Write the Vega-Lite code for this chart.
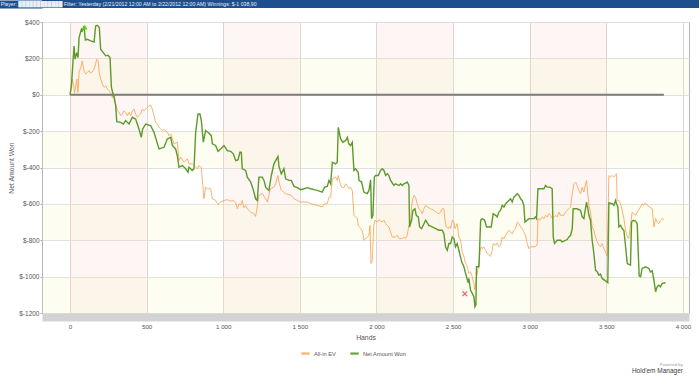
{
  "$schema": "https://vega.github.io/schema/vega-lite/v6.json",
  "padding": 0,
  "background": "white",
  "spacing": 10,
  "config": {
    "font": "Liberation Sans",
    "view": {"stroke": null},
    "axis": {"labelFont": "Liberation Sans", "titleFont": "Liberation Sans", "titleFontWeight": "normal"},
    "axisY": {"labelOverlap": false},
    "legend": {"labelFont": "Liberation Sans"},
    "title": {"font": "Liberation Sans"}
  },
  "datasets": {
    "vbands": [{"h0": 0, "h1": 500}, {"h0": 1000, "h1": 1500}, {"h0": 2000, "h1": 2500}, {"h0": 3000, "h1": 3500}],
    "hbands": [{"v0": 0, "v1": 200}, {"v0": -400, "v1": -200}, {"v0": -800, "v1": -600}, {"v0": -1200, "v1": -1000}],
    "zero": [{"h0": 0, "h1": 3876, "v": 0}],
    "markers": [{"kind": "max", "hand": 96, "value": 372}, {"kind": "min", "hand": 2577, "value": -1094}],
    "ev": [
      {"hand":0,"value":0},{"hand":15,"value":86},{"hand":22,"value":58},{"hand":30,"value":9},{"hand":44,"value":86},{"hand":52,"value":13},{"hand":59,"value":122},{"hand":70,"value":150},{"hand":80,"value":186},{"hand":91,"value":132},{"hand":102,"value":113},{"hand":113,"value":122},{"hand":124,"value":132},{"hand":135,"value":119},{"hand":152,"value":132},{"hand":161,"value":150},{"hand":174,"value":196},{"hand":183,"value":186},{"hand":191,"value":122},{"hand":200,"value":86},{"hand":211,"value":58},{"hand":222,"value":40},{"hand":233,"value":49},{"hand":244,"value":31},{"hand":254,"value":22},{"hand":265,"value":13},{"hand":276,"value":-15},{"hand":287,"value":4},{"hand":298,"value":-51},{"hand":309,"value":-88},{"hand":320,"value":-97},{"hand":331,"value":-115},{"hand":341,"value":-106},{"hand":352,"value":-88},{"hand":363,"value":-97},{"hand":374,"value":-115},{"hand":385,"value":-97},{"hand":396,"value":-115},{"hand":407,"value":-88},{"hand":418,"value":-79},{"hand":428,"value":-106},{"hand":439,"value":-124},{"hand":450,"value":-115},{"hand":461,"value":-106},{"hand":472,"value":-79},{"hand":483,"value":-88},{"hand":505,"value":-69},{"hand":515,"value":-60},{"hand":526,"value":-57},{"hand":537,"value":-79},{"hand":548,"value":-115},{"hand":559,"value":-152},{"hand":570,"value":-161},{"hand":581,"value":-179},{"hand":592,"value":-188},{"hand":602,"value":-197},{"hand":613,"value":-192},{"hand":635,"value":-206},{"hand":646,"value":-225},{"hand":657,"value":-215},{"hand":668,"value":-243},{"hand":679,"value":-270},{"hand":700,"value":-261},{"hand":711,"value":-362},{"hand":722,"value":-343},{"hand":744,"value":-371},{"hand":766,"value":-352},{"hand":776,"value":-380},{"hand":798,"value":-380},{"hand":820,"value":-398},{"hand":831,"value":-407},{"hand":842,"value":-389},{"hand":857,"value":-402},{"hand":874,"value":-572},{"hand":885,"value":-508},{"hand":896,"value":-517},{"hand":918,"value":-517},{"hand":929,"value":-572},{"hand":950,"value":-581},{"hand":966,"value":-603},{"hand":983,"value":-590},{"hand":1005,"value":-581},{"hand":1027,"value":-577},{"hand":1048,"value":-585},{"hand":1066,"value":-581},{"hand":1081,"value":-595},{"hand":1092,"value":-627},{"hand":1103,"value":-599},{"hand":1114,"value":-608},{"hand":1124,"value":-581},{"hand":1135,"value":-621},{"hand":1146,"value":-608},{"hand":1157,"value":-627},{"hand":1179,"value":-645},{"hand":1201,"value":-654},{"hand":1211,"value":-669},{"hand":1222,"value":-617},{"hand":1233,"value":-553},{"hand":1255,"value":-544},{"hand":1277,"value":-572},{"hand":1288,"value":-590},{"hand":1298,"value":-553},{"hand":1309,"value":-517},{"hand":1331,"value":-508},{"hand":1342,"value":-490},{"hand":1357,"value":-444},{"hand":1364,"value":-480},{"hand":1379,"value":-526},{"hand":1407,"value":-544},{"hand":1444,"value":-553},{"hand":1462,"value":-572},{"hand":1483,"value":-581},{"hand":1505,"value":-590},{"hand":1549,"value":-590},{"hand":1570,"value":-599},{"hand":1614,"value":-608},{"hand":1646,"value":-617},{"hand":1662,"value":-599},{"hand":1679,"value":-599},{"hand":1690,"value":-563},{"hand":1701,"value":-563},{"hand":1712,"value":-462},{"hand":1733,"value":-453},{"hand":1744,"value":-471},{"hand":1751,"value":-444},{"hand":1760,"value":-480},{"hand":1773,"value":-508},{"hand":1788,"value":-511},{"hand":1799,"value":-490},{"hand":1810,"value":-499},{"hand":1820,"value":-517},{"hand":1831,"value":-508},{"hand":1842,"value":-526},{"hand":1853,"value":-663},{"hand":1864,"value":-672},{"hand":1875,"value":-681},{"hand":1881,"value":-718},{"hand":1897,"value":-736},{"hand":1907,"value":-745},{"hand":1918,"value":-800},{"hand":1940,"value":-782},{"hand":1951,"value":-773},{"hand":1958,"value":-718},{"hand":1964,"value":-928},{"hand":1973,"value":-910},{"hand":1982,"value":-718},{"hand":1990,"value":-690},{"hand":2005,"value":-700},{"hand":2016,"value":-687},{"hand":2038,"value":-700},{"hand":2049,"value":-690},{"hand":2060,"value":-709},{"hand":2081,"value":-727},{"hand":2092,"value":-754},{"hand":2103,"value":-782},{"hand":2125,"value":-782},{"hand":2136,"value":-773},{"hand":2147,"value":-791},{"hand":2168,"value":-791},{"hand":2179,"value":-782},{"hand":2190,"value":-791},{"hand":2201,"value":-773},{"hand":2212,"value":-718},{"hand":2223,"value":-709},{"hand":2229,"value":-617},{"hand":2238,"value":-572},{"hand":2245,"value":-553},{"hand":2255,"value":-563},{"hand":2266,"value":-599},{"hand":2277,"value":-627},{"hand":2288,"value":-636},{"hand":2299,"value":-654},{"hand":2310,"value":-627},{"hand":2321,"value":-608},{"hand":2332,"value":-617},{"hand":2353,"value":-627},{"hand":2375,"value":-636},{"hand":2397,"value":-650},{"hand":2408,"value":-654},{"hand":2419,"value":-645},{"hand":2429,"value":-627},{"hand":2440,"value":-627},{"hand":2447,"value":-690},{"hand":2456,"value":-727},{"hand":2469,"value":-736},{"hand":2477,"value":-723},{"hand":2484,"value":-736},{"hand":2495,"value":-690},{"hand":2506,"value":-700},{"hand":2512,"value":-736},{"hand":2527,"value":-709},{"hand":2538,"value":-782},{"hand":2549,"value":-800},{"hand":2560,"value":-864},{"hand":2571,"value":-891},{"hand":2582,"value":-928},{"hand":2593,"value":-946},{"hand":2603,"value":-983},{"hand":2614,"value":-974},{"hand":2625,"value":-1001},{"hand":2636,"value":-1037},{"hand":2640,"value":-1074},{"hand":2647,"value":-1047},{"hand":2653,"value":-1001},{"hand":2662,"value":-964},{"hand":2669,"value":-928},{"hand":2675,"value":-864},{"hand":2684,"value":-836},{"hand":2691,"value":-846},{"hand":2701,"value":-836},{"hand":2712,"value":-855},{"hand":2723,"value":-873},{"hand":2745,"value":-888},{"hand":2756,"value":-855},{"hand":2762,"value":-818},{"hand":2778,"value":-827},{"hand":2788,"value":-815},{"hand":2799,"value":-836},{"hand":2810,"value":-827},{"hand":2821,"value":-782},{"hand":2832,"value":-791},{"hand":2843,"value":-773},{"hand":2864,"value":-745},{"hand":2875,"value":-754},{"hand":2886,"value":-764},{"hand":2897,"value":-745},{"hand":2908,"value":-736},{"hand":2919,"value":-700},{"hand":2930,"value":-709},{"hand":2941,"value":-727},{"hand":2951,"value":-736},{"hand":2962,"value":-754},{"hand":2973,"value":-773},{"hand":2984,"value":-818},{"hand":2995,"value":-846},{"hand":3006,"value":-836},{"hand":3028,"value":-836},{"hand":3049,"value":-827},{"hand":3054,"value":-681},{"hand":3067,"value":-690},{"hand":3082,"value":-672},{"hand":3093,"value":-681},{"hand":3104,"value":-663},{"hand":3115,"value":-672},{"hand":3125,"value":-654},{"hand":3136,"value":-663},{"hand":3147,"value":-681},{"hand":3169,"value":-663},{"hand":3180,"value":-672},{"hand":3191,"value":-645},{"hand":3202,"value":-663},{"hand":3223,"value":-663},{"hand":3234,"value":-645},{"hand":3256,"value":-627},{"hand":3267,"value":-617},{"hand":3278,"value":-544},{"hand":3289,"value":-490},{"hand":3300,"value":-480},{"hand":3310,"value":-499},{"hand":3321,"value":-526},{"hand":3332,"value":-544},{"hand":3343,"value":-508},{"hand":3354,"value":-535},{"hand":3365,"value":-490},{"hand":3371,"value":-471},{"hand":3380,"value":-553},{"hand":3387,"value":-608},{"hand":3397,"value":-645},{"hand":3408,"value":-727},{"hand":3419,"value":-745},{"hand":3430,"value":-782},{"hand":3441,"value":-809},{"hand":3452,"value":-827},{"hand":3462,"value":-836},{"hand":3473,"value":-818},{"hand":3484,"value":-846},{"hand":3495,"value":-864},{"hand":3506,"value":-888},{"hand":3517,"value":-444},{"hand":3528,"value":-453},{"hand":3539,"value":-444},{"hand":3550,"value":-453},{"hand":3561,"value":-438},{"hand":3567,"value":-435},{"hand":3571,"value":-581},{"hand":3582,"value":-581},{"hand":3593,"value":-599},{"hand":3604,"value":-636},{"hand":3615,"value":-681},{"hand":3626,"value":-745},{"hand":3637,"value":-782},{"hand":3647,"value":-791},{"hand":3658,"value":-718},{"hand":3669,"value":-645},{"hand":3680,"value":-654},{"hand":3691,"value":-663},{"hand":3702,"value":-645},{"hand":3724,"value":-617},{"hand":3734,"value":-599},{"hand":3745,"value":-608},{"hand":3756,"value":-595},{"hand":3767,"value":-608},{"hand":3789,"value":-621},{"hand":3800,"value":-627},{"hand":3811,"value":-727},{"hand":3822,"value":-681},{"hand":3832,"value":-700},{"hand":3843,"value":-709},{"hand":3854,"value":-690},{"hand":3865,"value":-681},{"hand":3876,"value":-687}
    ],
    "net": [
      {"hand":0,"value":0},{"hand":9,"value":49},{"hand":26,"value":268},{"hand":33,"value":196},{"hand":44,"value":232},{"hand":52,"value":205},{"hand":59,"value":314},{"hand":74,"value":360},{"hand":80,"value":351},{"hand":91,"value":378},{"hand":100,"value":301},{"hand":113,"value":305},{"hand":135,"value":296},{"hand":157,"value":290},{"hand":167,"value":378},{"hand":178,"value":382},{"hand":191,"value":369},{"hand":200,"value":250},{"hand":217,"value":232},{"hand":233,"value":214},{"hand":248,"value":217},{"hand":261,"value":205},{"hand":270,"value":40},{"hand":287,"value":-15},{"hand":298,"value":-60},{"hand":305,"value":-148},{"hand":331,"value":-152},{"hand":348,"value":-161},{"hand":363,"value":-142},{"hand":385,"value":-161},{"hand":407,"value":-124},{"hand":428,"value":-133},{"hand":450,"value":-188},{"hand":465,"value":-234},{"hand":474,"value":-188},{"hand":494,"value":-161},{"hand":526,"value":-170},{"hand":548,"value":-206},{"hand":581,"value":-298},{"hand":613,"value":-289},{"hand":635,"value":-243},{"hand":657,"value":-234},{"hand":668,"value":-279},{"hand":689,"value":-298},{"hand":700,"value":-334},{"hand":711,"value":-398},{"hand":733,"value":-389},{"hand":755,"value":-407},{"hand":770,"value":-426},{"hand":776,"value":-398},{"hand":798,"value":-416},{"hand":809,"value":-407},{"hand":820,"value":-206},{"hand":835,"value":-106},{"hand":848,"value":-106},{"hand":857,"value":-142},{"hand":870,"value":-261},{"hand":885,"value":-197},{"hand":907,"value":-212},{"hand":922,"value":-225},{"hand":929,"value":-270},{"hand":950,"value":-279},{"hand":966,"value":-311},{"hand":983,"value":-298},{"hand":1005,"value":-279},{"hand":1027,"value":-307},{"hand":1048,"value":-311},{"hand":1066,"value":-325},{"hand":1081,"value":-362},{"hand":1096,"value":-358},{"hand":1109,"value":-316},{"hand":1118,"value":-316},{"hand":1124,"value":-407},{"hand":1146,"value":-416},{"hand":1157,"value":-453},{"hand":1179,"value":-480},{"hand":1196,"value":-522},{"hand":1211,"value":-572},{"hand":1222,"value":-581},{"hand":1233,"value":-453},{"hand":1255,"value":-453},{"hand":1266,"value":-471},{"hand":1277,"value":-508},{"hand":1298,"value":-526},{"hand":1314,"value":-444},{"hand":1331,"value":-380},{"hand":1342,"value":-362},{"hand":1357,"value":-340},{"hand":1364,"value":-395},{"hand":1379,"value":-435},{"hand":1396,"value":-407},{"hand":1407,"value":-462},{"hand":1429,"value":-471},{"hand":1444,"value":-471},{"hand":1462,"value":-504},{"hand":1483,"value":-511},{"hand":1505,"value":-522},{"hand":1527,"value":-517},{"hand":1549,"value":-511},{"hand":1570,"value":-517},{"hand":1592,"value":-522},{"hand":1614,"value":-526},{"hand":1646,"value":-535},{"hand":1662,"value":-508},{"hand":1679,"value":-504},{"hand":1690,"value":-471},{"hand":1701,"value":-490},{"hand":1712,"value":-371},{"hand":1733,"value":-380},{"hand":1744,"value":-371},{"hand":1751,"value":-179},{"hand":1766,"value":-243},{"hand":1781,"value":-261},{"hand":1799,"value":-252},{"hand":1810,"value":-234},{"hand":1820,"value":-270},{"hand":1831,"value":-279},{"hand":1842,"value":-261},{"hand":1853,"value":-416},{"hand":1864,"value":-407},{"hand":1881,"value":-426},{"hand":1886,"value":-471},{"hand":1903,"value":-480},{"hand":1918,"value":-535},{"hand":1940,"value":-544},{"hand":1951,"value":-526},{"hand":1962,"value":-468},{"hand":1968,"value":-681},{"hand":1977,"value":-663},{"hand":1986,"value":-453},{"hand":1994,"value":-444},{"hand":2012,"value":-444},{"hand":2027,"value":-416},{"hand":2038,"value":-407},{"hand":2049,"value":-416},{"hand":2060,"value":-444},{"hand":2071,"value":-435},{"hand":2081,"value":-444},{"hand":2092,"value":-471},{"hand":2114,"value":-499},{"hand":2125,"value":-490},{"hand":2147,"value":-499},{"hand":2158,"value":-490},{"hand":2168,"value":-499},{"hand":2179,"value":-490},{"hand":2190,"value":-486},{"hand":2201,"value":-480},{"hand":2212,"value":-499},{"hand":2216,"value":-727},{"hand":2229,"value":-690},{"hand":2238,"value":-636},{"hand":2251,"value":-627},{"hand":2260,"value":-663},{"hand":2273,"value":-672},{"hand":2282,"value":-727},{"hand":2295,"value":-736},{"hand":2310,"value":-709},{"hand":2321,"value":-690},{"hand":2342,"value":-718},{"hand":2364,"value":-727},{"hand":2386,"value":-736},{"hand":2408,"value":-745},{"hand":2429,"value":-745},{"hand":2440,"value":-764},{"hand":2451,"value":-836},{"hand":2462,"value":-855},{"hand":2473,"value":-818},{"hand":2484,"value":-818},{"hand":2495,"value":-782},{"hand":2506,"value":-791},{"hand":2516,"value":-836},{"hand":2527,"value":-818},{"hand":2538,"value":-855},{"hand":2556,"value":-919},{"hand":2571,"value":-946},{"hand":2582,"value":-983},{"hand":2599,"value":-1034},{"hand":2603,"value":-1010},{"hand":2614,"value":-1074},{"hand":2625,"value":-1092},{"hand":2636,"value":-1111},{"hand":2643,"value":-1165},{"hand":2649,"value":-1156},{"hand":2653,"value":-946},{"hand":2669,"value":-946},{"hand":2680,"value":-690},{"hand":2690,"value":-681},{"hand":2706,"value":-690},{"hand":2719,"value":-727},{"hand":2749,"value":-727},{"hand":2762,"value":-654},{"hand":2778,"value":-663},{"hand":2788,"value":-672},{"hand":2799,"value":-645},{"hand":2810,"value":-636},{"hand":2821,"value":-608},{"hand":2832,"value":-617},{"hand":2843,"value":-599},{"hand":2864,"value":-581},{"hand":2875,"value":-572},{"hand":2886,"value":-590},{"hand":2897,"value":-563},{"hand":2919,"value":-544},{"hand":2930,"value":-553},{"hand":2941,"value":-572},{"hand":2951,"value":-581},{"hand":2962,"value":-608},{"hand":2969,"value":-700},{"hand":2995,"value":-681},{"hand":3028,"value":-681},{"hand":3039,"value":-672},{"hand":3045,"value":-681},{"hand":3054,"value":-517},{"hand":3075,"value":-517},{"hand":3093,"value":-517},{"hand":3104,"value":-499},{"hand":3115,"value":-508},{"hand":3132,"value":-508},{"hand":3147,"value":-517},{"hand":3154,"value":-782},{"hand":3162,"value":-818},{"hand":3180,"value":-800},{"hand":3202,"value":-800},{"hand":3212,"value":-809},{"hand":3245,"value":-796},{"hand":3256,"value":-782},{"hand":3267,"value":-773},{"hand":3278,"value":-736},{"hand":3284,"value":-627},{"hand":3310,"value":-627},{"hand":3332,"value":-636},{"hand":3343,"value":-672},{"hand":3354,"value":-681},{"hand":3371,"value":-590},{"hand":3380,"value":-627},{"hand":3387,"value":-663},{"hand":3397,"value":-690},{"hand":3408,"value":-800},{"hand":3419,"value":-873},{"hand":3430,"value":-964},{"hand":3441,"value":-974},{"hand":3452,"value":-992},{"hand":3462,"value":-986},{"hand":3473,"value":-1010},{"hand":3495,"value":-1023},{"hand":3510,"value":-1034},{"hand":3517,"value":-595},{"hand":3539,"value":-599},{"hand":3550,"value":-608},{"hand":3561,"value":-581},{"hand":3567,"value":-599},{"hand":3576,"value":-617},{"hand":3582,"value":-727},{"hand":3593,"value":-718},{"hand":3604,"value":-736},{"hand":3615,"value":-745},{"hand":3626,"value":-836},{"hand":3637,"value":-928},{"hand":3658,"value":-937},{"hand":3665,"value":-700},{"hand":3676,"value":-690},{"hand":3691,"value":-694},{"hand":3702,"value":-709},{"hand":3708,"value":-855},{"hand":3715,"value":-997},{"hand":3724,"value":-1001},{"hand":3734,"value":-955},{"hand":3756,"value":-946},{"hand":3778,"value":-955},{"hand":3789,"value":-974},{"hand":3800,"value":-968},{"hand":3811,"value":-1019},{"hand":3822,"value":-1083},{"hand":3832,"value":-1056},{"hand":3843,"value":-1047},{"hand":3854,"value":-1056},{"hand":3865,"value":-1037},{"hand":3887,"value":-1034}
    ]
  },
  "vconcat": [
    {
      "width": 657,
      "height": 8,
      "data": {"values": [{"bar": "header"}]},
      "mark": {"type": "rect", "color": "#1d4e8d"},
      "encoding": {
        "y": {
          "datum": 0, "type": "quantitative",
          "scale": {"domain": [0, 1]},
          "axis": {
            "labels": false, "ticks": false, "grid": false, "title": null,
            "domain": true, "domainColor": "#1d4e8d", "domainWidth": 43.5,
            "offset": 21.75, "minExtent": 0
          }
        },
        "y2": {"datum": 1}
      },
      "title": {
        "text": "Player: ████████████ Filter: Yesterday (2/21/2012 12:00 AM to 2/22/2012 12:00 AM)  Winnings: $-1 038,90",
        "anchor": "start",
        "frame": "bounds",
        "orient": "top",
        "offset": -7.5,
        "baseline": "top",
        "fontSize": 5.2,
        "fontWeight": "normal",
        "color": "#e8eef6",
        "dx": -19.5
      }
    },
    {
      "width": 647,
      "height": 291,
      "view": {"stroke": "#b5b5b5"},
      "title": {
        "text": "Powered by",
        "subtitle": "Hold'em Manager",
        "orient": "bottom",
        "anchor": "end",
        "frame": "group",
        "fontSize": 4.4,
        "fontWeight": "normal",
        "color": "#a0a0a0",
        "subtitleFontSize": 6.5,
        "subtitleColor": "#404040",
        "subtitlePadding": 0.5,
        "offset": 22,
        "dx": -6
      },
      "layer": [
        {
          "data": {"name": "vbands"},
          "mark": {"type": "rect", "color": "#f2c9b9", "opacity": 0.16},
          "encoding": {
            "x": {
              "field": "h0", "type": "quantitative",
              "scale": {"domain": [-183, 4040], "nice": false, "zero": false},
              "axis": {
                "title": "Hands",
                "values": [0, 500, 1000, 1500, 2000, 2500, 3000, 3500, 4000],
                "labelExpr": "replace(format(datum.value, ','), ',', ' ')",
                "grid": true, "gridColor": "#dcd6d2", "gridWidth": 1,
                "ticks": false, "tickSize": 0,
                "domain": true, "domainColor": "#d3d3d3", "domainWidth": 8,
                "offset": 4,
                "labelPadding": 6, "labelFontSize": 6.2, "labelColor": "#555555",
                "titleFontSize": 6.8, "titleColor": "#555555", "titlePadding": 5
              }
            },
            "x2": {"field": "h1"},
            "y": {
              "datum": 400, "type": "quantitative",
              "scale": {"domain": [-1200, 400], "nice": false, "zero": false},
              "axis": {
                "title": ["", "Net Amount Won"],
                "titleLineHeight": 7,
                "values": [400, 200, 0, -200, -400, -600, -800, -1000, -1200],
                "tickCount": 9,
                "labelExpr": "'$' + datum.value",
                "labelOverlap": false,
                "labelSeparation": 0,
                "grid": true, "gridColor": "#e0e0e0",
                "domain": false,
                "ticks": true, "tickSize": 2, "tickColor": "#aaaaaa",
                "labelPadding": 1, "labelFontSize": 6.5, "labelColor": "#555555",
                "titleFontSize": 6.8, "titleColor": "#555555", "titlePadding": 3.9
              }
            },
            "y2": {"datum": -1200}
          }
        },
        {
          "data": {"name": "hbands"},
          "mark": {"type": "rect", "color": "#faf2b4", "opacity": 0.17},
          "encoding": {
            "x": {"datum": -183, "type": "quantitative"},
            "x2": {"datum": 4040},
            "y": {"field": "v0", "type": "quantitative"},
            "y2": {"field": "v1"}
          }
        },
        {
          "data": {"name": "ev"},
          "mark": {"type": "line", "strokeWidth": 1, "opacity": 0.9},
          "encoding": {
            "x": {"field": "hand", "type": "quantitative"},
            "y": {"field": "value", "type": "quantitative"},
            "color": {
              "datum": "All-in EV", "type": "nominal",
              "scale": {"domain": ["All-in EV", "Net Amount Won"], "range": ["#f9a95e", "#5c9a2a"]},
              "legend": {
                "orient": "none", "legendX": 258, "legendY": 348,
                "direction": "horizontal", "title": null,
                "symbolType": "stroke", "symbolSize": 70, "symbolStrokeWidth": 2.2,
                "labelFontSize": 5.7, "labelColor": "#555555",
                "labelOffset": 3, "columnPadding": 9, "padding": 0
              }
            }
          }
        },
        {
          "data": {"name": "zero"},
          "mark": {"type": "rule", "color": "#7d7d7d", "strokeWidth": 2.2},
          "encoding": {
            "x": {"field": "h0", "type": "quantitative"},
            "x2": {"field": "h1"},
            "y": {"field": "v", "type": "quantitative"}
          }
        },
        {
          "data": {"name": "net"},
          "mark": {"type": "line", "strokeWidth": 1.4},
          "encoding": {
            "x": {"field": "hand", "type": "quantitative"},
            "y": {"field": "value", "type": "quantitative"},
            "color": {"datum": "Net Amount Won", "type": "nominal"}
          }
        },
        {
          "data": {"name": "markers"},
          "transform": [{"filter": "datum.kind == 'max'"}],
          "mark": {"type": "point", "shape": "triangle-up", "filled": true, "color": "#5fd000", "size": 30, "opacity": 1},
          "encoding": {
            "x": {"field": "hand", "type": "quantitative"},
            "y": {"field": "value", "type": "quantitative"}
          }
        },
        {
          "data": {"name": "markers"},
          "transform": [{"filter": "datum.kind == 'min'"}],
          "mark": {"type": "point", "shape": "M-1,-1L1,1M-1,1L1,-1", "filled": false, "stroke": "#e35d6a", "strokeWidth": 1.2, "size": 22, "opacity": 1},
          "encoding": {
            "x": {"field": "hand", "type": "quantitative"},
            "y": {"field": "value", "type": "quantitative"}
          }
        }
      ]
    }
  ]
}
